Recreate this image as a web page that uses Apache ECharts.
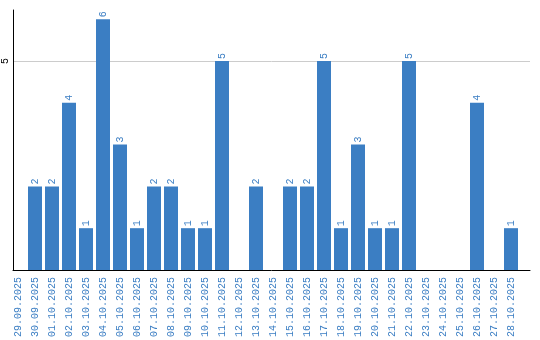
<!DOCTYPE html>
<html>
<head>
<meta charset="utf-8">
<script src="https://cdn.jsdelivr.net/npm/echarts@6/dist/echarts.min.js"></script>
<style>html,body{margin:0;padding:0;background:#fff}#c{width:540px;height:340px}</style>
</head>
<body>
<div id="c"></div>
<script>
var categories = ["29.09.2025","30.09.2025","01.10.2025","02.10.2025","03.10.2025","04.10.2025","05.10.2025","06.10.2025","07.10.2025","08.10.2025","09.10.2025","10.10.2025","11.10.2025","12.10.2025","13.10.2025","14.10.2025","15.10.2025","16.10.2025","17.10.2025","18.10.2025","19.10.2025","20.10.2025","21.10.2025","22.10.2025","23.10.2025","24.10.2025","25.10.2025","26.10.2025","27.10.2025","28.10.2025"];
var values = [0,2,2,4,1,6,3,1,2,2,1,1,5,0,2,0,2,2,5,1,3,1,1,5,0,0,0,4,0,1];
var yTickLabels = [5];

var BLUE = '#3b7ec3';
var FONT = 'Liberation Mono';
var YMAX = 6.22;

var chart = echarts.init(document.getElementById('c'), null, {renderer: 'canvas'});
chart.setOption({
  animation: false,
  backgroundColor: '#fff',
  grid: [
    {left: 9.5, width: 510, top: 10, height: 260, containLabel: false},
    {left: 10, width: 520, top: 10, height: 260, containLabel: false}
  ],
  xAxis: [
    {
      type: 'category', gridIndex: 0, data: categories,
      axisLine: {show: false}, axisTick: {show: false},
      axisLabel: {interval: 0, rotate: 90, margin: 7, color: BLUE, fontFamily: FONT, fontSize: 10}
    },
    {
      type: 'value', gridIndex: 1, min: 0, max: 1,
      axisLine: {show: true, lineStyle: {color: '#000', width: 1}},
      axisTick: {show: false}, axisLabel: {show: false}, splitLine: {show: false}
    }
  ],
  yAxis: [
    {
      type: 'value', gridIndex: 0, min: 0, max: YMAX, show: false
    },
    {
      type: 'value', gridIndex: 1, min: 0, max: YMAX, interval: 5,
      axisLine: {show: true, lineStyle: {color: '#000', width: 1}},
      axisTick: {show: false},
      axisLabel: {
        show: true, rotate: 90, margin: 3, color: '#000', fontFamily: FONT, fontSize: 10,
        showMinLabel: false, showMaxLabel: false,
        formatter: function (v) { return yTickLabels.indexOf(v) >= 0 ? String(v) : ''; }
      },
      splitLine: {show: true, showMinLine: false, showMaxLine: false, lineStyle: {color: '#cccccc', width: 1}}
    }
  ],
  series: [{
    type: 'bar', xAxisIndex: 0, yAxisIndex: 0,
    data: values.map(function (v) { return v === 0 ? null : v; }),
    barWidth: 14,
    itemStyle: {color: BLUE},
    label: {
      show: true, position: 'top', rotate: 90, align: 'left', verticalAlign: 'middle',
      distance: 2, color: BLUE, fontFamily: FONT, fontSize: 10
    }
  }]
});
</script>
</body>
</html>
